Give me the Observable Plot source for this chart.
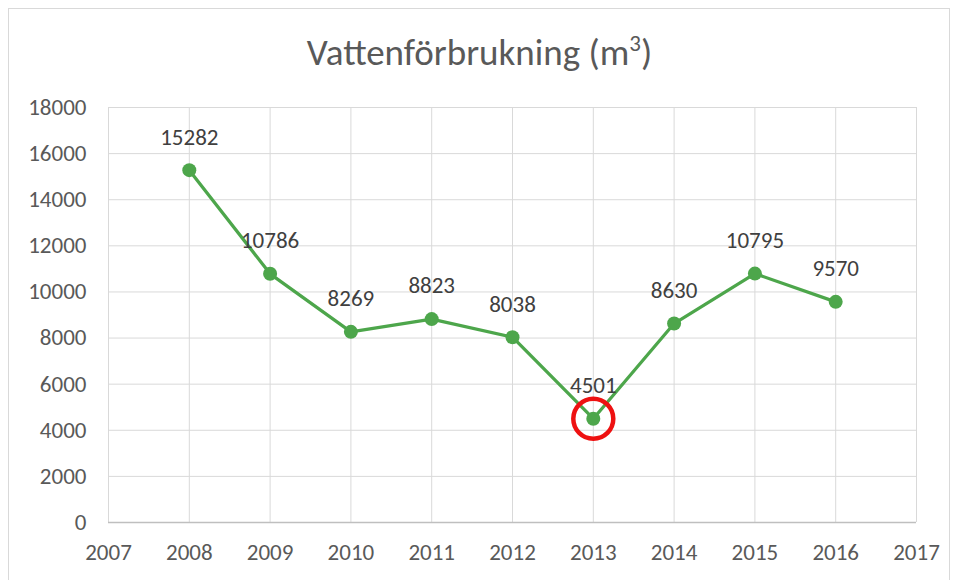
<!DOCTYPE html>
<html>
<head>
<meta charset="utf-8">
<script src="https://cdn.jsdelivr.net/npm/d3@7"></script>
<script src="https://cdn.jsdelivr.net/npm/@observablehq/plot@0.6"></script>
<style>
  html, body { margin: 0; padding: 0; background: #fff; }
  #wrap { position: relative; width: 959px; height: 580px; overflow: hidden; }
  #frame { position: absolute; left: 8px; top: 8px; width: 942px; height: 600px; border: 1px solid #d9d9d9; box-sizing: border-box; }
  #chart { position: absolute; left: 0; top: 0; }
  #title { position: absolute; left: 0; width: 959px; top: 30px; text-align: center; font-family: Carlito, "DejaVu Sans Condensed", sans-serif; font-size: 37px; color: #595959; }
  #title sup { font-size: 23px; vertical-align: 14px; line-height: 0; }
</style>
</head>
<body>
<div id="wrap">
  <div id="frame"></div>
  <div id="chart"></div>
  <div id="title">Vattenförbrukning (m<sup>3</sup>)</div>
</div>
<script>
const years = [2008, 2009, 2010, 2011, 2012, 2013, 2014, 2015, 2016];
const values = [15282, 10786, 8269, 8823, 8038, 4501, 8630, 10795, 9570];
const highlightYear = [2013];
const xTicks = [2007, 2008, 2009, 2010, 2011, 2012, 2013, 2014, 2015, 2016, 2017];
const yTicks = [0, 2000, 4000, 6000, 8000, 10000, 12000, 14000, 16000, 18000];

const data = years.map((y, i) => ({year: y, value: values[i]}));
const highlight = data.filter(d => highlightYear.includes(d.year));
const green = "#4da64b";
const font = "Carlito, 'DejaVu Sans Condensed', sans-serif";

const chart = Plot.plot({
  width: 959,
  height: 580,
  marginLeft: 108,
  marginRight: 43,
  marginTop: 107,
  marginBottom: 58,
  style: {fontFamily: font, fontSize: "23px", color: "#595959", background: "transparent"},
  x: {domain: [2007, 2017], ticks: xTicks, tickFormat: d => String(d), label: null},
  y: {domain: [0, 18000], ticks: yTicks, tickFormat: d => String(d), label: null},
  marks: [
    Plot.gridX(xTicks, {stroke: "#d9d9d9", strokeOpacity: 1, strokeWidth: 1}),
    Plot.gridY(yTicks.filter(t => t > 0), {stroke: "#d9d9d9", strokeOpacity: 1, strokeWidth: 1}),
    Plot.axisX(xTicks, {tickSize: 0, tickPadding: 21, fill: "#595959", fontSize: 23, tickFormat: d => String(d), label: null}),
    Plot.axisY(yTicks, {tickSize: 0, tickPadding: 22, fill: "#595959", fontSize: 23, tickFormat: d => String(d), label: null}),
    Plot.ruleY([0], {stroke: "#bfbfbf", strokeWidth: 1.5}),
    Plot.line(data, {x: "year", y: "value", stroke: green, strokeWidth: 3.25}),
    Plot.dot(data, {x: "year", y: "value", r: 7, fill: green, stroke: "none"}),
    Plot.text(data, {x: "year", y: "value", text: d => String(d.value), dy: -33, fill: "#404040", fontSize: 23}),
    Plot.dot(highlight, {x: "year", y: "value", r: 20, fill: "none", stroke: "#ee1111", strokeWidth: 4.5})
  ]
});
document.getElementById("chart").appendChild(chart);
</script>
</body>
</html>
